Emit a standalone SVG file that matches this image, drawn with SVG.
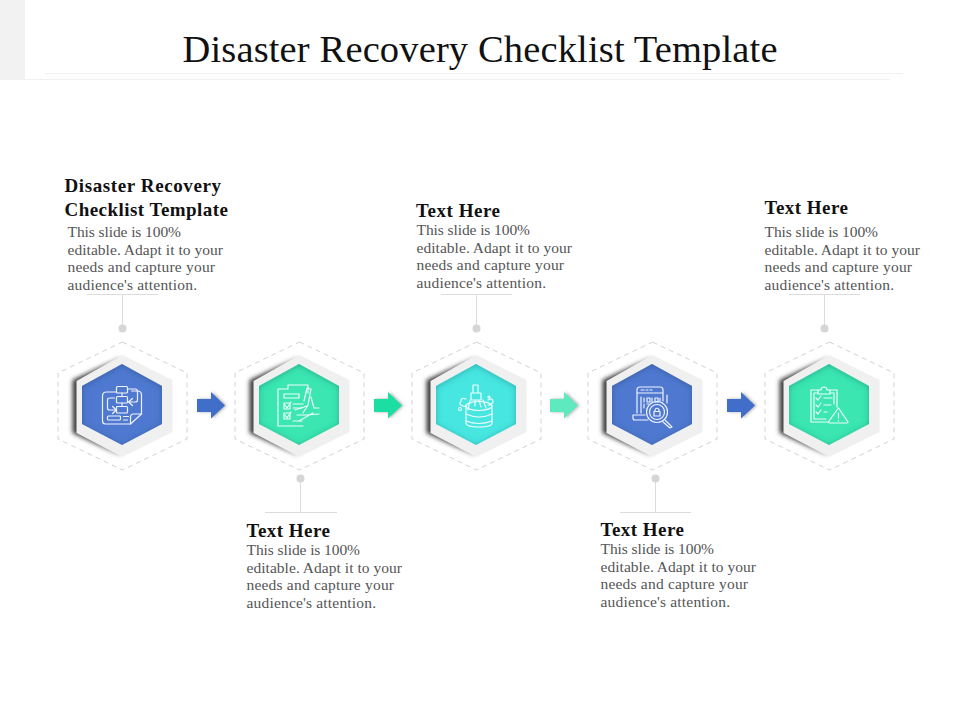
<svg xmlns="http://www.w3.org/2000/svg" width="960" height="720" viewBox="0 0 960 720">
<style>
.t{font-family:"Liberation Serif",serif;font-size:38.500px;fill:#111}
.h{font-family:"Liberation Serif",serif;font-size:19px;font-weight:bold;fill:#111}
.b{font-family:"Liberation Serif",serif;font-size:15.500px;fill:#555}
.dash{fill:#fff;stroke:#d2d2d2;stroke-width:1;stroke-dasharray:5 4}
.plate{fill:#f0f0f0}
.ic{fill:none;stroke:#fff;stroke-width:1.2;stroke-linejoin:round;stroke-linecap:round;opacity:.9}
.lead{fill:none;stroke:#dcdcdc;stroke-width:1}
.dot{fill:#d6d6d6}
</style>
<defs>
<filter id="inner" x="-20%" y="-20%" width="140%" height="140%">
<feFlood flood-color="#06304f" flood-opacity=".5"/>
<feComposite in2="SourceAlpha" operator="out"/>
<feGaussianBlur stdDeviation="3.400"/>
<feOffset dy="1"/>
<feComposite in2="SourceAlpha" operator="in" result="s"/>
<feMerge><feMergeNode in="SourceGraphic"/><feMergeNode in="s"/></feMerge>
</filter>
<filter id="soft" x="-30%" y="-30%" width="160%" height="160%"><feGaussianBlur stdDeviation="2"/></filter>
<filter id="arrowSh" x="-30%" y="-30%" width="170%" height="160%"><feDropShadow dx="1.500" dy="0" stdDeviation="1.500" flood-color="#555" flood-opacity=".5"/></filter>
<linearGradient id="shade" x1="0" x2="1" y1="0" y2="0"><stop offset="0" stop-color="#3c3c3c"/><stop offset=".6" stop-color="#5a5a5a"/><stop offset="1" stop-color="#bbb"/></linearGradient>
<g id="base">
<polygon class="dash" points="0,-64 64.500,-33 64.500,33 0,64 -64.500,33 -64.500,-33"/>
<path d="M-2,-49 L-50,-26 V27 L-2,50 L-2,40 L-40,20 V-20 L-2,-40 Z" fill="url(#shade)" filter="url(#soft)"/>
<polygon class="plate" points="0,-51 50,-26 50,26 0,51 -46,27 -46,-25"/>
</g>
<polygon id="core" points="0,-41 40,-19 40,19 0,40 -40,19 -40,-19" filter="url(#inner)"/>
<path id="arrow" d="M0,-6.500 H14 V-13.500 L28,0 L14,13 V6.500 H0 Z" filter="url(#arrowSh)"/>
</defs>

<rect width="960" height="720" fill="#fff"/>
<rect width="25" height="80" fill="#f2f2f2"/>
<line x1="45" y1="73.500" x2="903" y2="73.500" stroke="#f1f1f1"/>
<line x1="25" y1="79.500" x2="890" y2="79.500" stroke="#f1f1f1"/>
<text id="title" class="t" x="182.500" y="62" textLength="595">Disaster Recovery Checklist Template</text>

<g id="connectors">
<path class="lead" d="M122.500,328V294.500M87,294.500H158"/><circle class="dot" cx="122.500" cy="328.500" r="4"/>
<path class="lead" d="M300.500,478V512.500M265,512.500H337"/><circle class="dot" cx="300.500" cy="478.500" r="4"/>
<path class="lead" d="M476.500,328V294.500M441,294.500H512"/><circle class="dot" cx="476.500" cy="328.500" r="4"/>
<path class="lead" d="M655.500,478V512.500M620,512.500H691"/><circle class="dot" cx="655.500" cy="478.500" r="4"/>
<path class="lead" d="M824.500,328V294.500M789,294.500H860"/><circle class="dot" cx="824.500" cy="328.500" r="4"/>
<use href="#arrow" x="197" y="405.500" fill="#3f6ec8"/>
<use href="#arrow" x="374" y="405.500" fill="#1edda2"/>
<use href="#arrow" x="550" y="405.500" fill="#5ee9bf"/>
<use href="#arrow" x="727" y="405.500" fill="#3f6ec8"/>
</g>

<g id="node-1">
<use href="#base" x="122.500" y="406"/>
<use href="#core" x="122" y="405" fill="#4f79d0"/>
<g class="ic" transform="translate(122.500,405)">
<rect x="-6" y="-18.500" width="11" height="6.500" rx="1"/><rect x="-6" y="-8.500" width="11" height="6.500" rx="1"/><rect x="-6" y="1.500" width="11" height="6.500" rx="1"/>
<path d="M-.5,-12V-8.500M-.5,-2V1.500"/>
<path d="M-6,-13H-16Q-20,-13 -20,-9V16Q-20,19 -17,19H8L19,9V-10Q19,-14 15,-14H9"/>
<path d="M5,-16H13Q15,-16 15,-13V-5Q15,-3 13,-3H7M10,-6.500L6,-3L10,.5"/>
<path d="M-6,5H-13Q-15,5 -15,3V-5Q-15,-7 -13,-7H-8M-10,1.500L-6,5L-10,8.500"/>
<rect x="-15" y="11" width="13" height="4" rx="1"/><path d="M1,11.500H6M1,15H5M8,19V12Q8,9 11,9H19"/>
</g>
<text class="h" x="64.500" y="192" textLength="156.500">Disaster Recovery</text>
<text class="h" x="64.500" y="216" textLength="163.500">Checklist Template</text>
<text class="b" x="67.500" y="237" textLength="113.500">This slide is 100%</text>
<text class="b" x="67.500" y="255" textLength="155.500">editable. Adapt it to your</text>
<text class="b" x="67.500" y="272" textLength="147.500">needs and capture your</text>
<text class="b" x="67.500" y="290" textLength="129.500">audience's attention.</text>
</g>

<g id="node-2">
<use href="#base" x="299.500" y="406"/>
<use href="#core" x="299" y="405" fill="#3ae6b1"/>
<g class="ic" transform="translate(299,405)">
<path d="M-11,-16V-20H9V-12M-11,-16H-21V21H4"/>
<rect x="-15" y="-11" width="15" height="4"/>
<rect x="-15" y="-2" width="6" height="6"/><path d="M-14,0L-12,3L-8,-3M-6,-1H4M-6,3H3"/>
<rect x="-15" y="8" width="6" height="6"/><path d="M-14,10L-12,13L-8,7M-6,16H3"/>
<path d="M5,-4L8,-17L12,-16L9,0M9,0L4,8M12,-8L15,3H20M-4,5L8,1M-2,10H8L20,9M0,16L14,8"/>
</g>
<text class="h" x="246.500" y="537" textLength="83.500">Text Here</text>
<text class="b" x="246.500" y="555" textLength="113.500">This slide is 100%</text>
<text class="b" x="246.500" y="573" textLength="155.500">editable. Adapt it to your</text>
<text class="b" x="246.500" y="590" textLength="147.500">needs and capture your</text>
<text class="b" x="246.500" y="608" textLength="129.500">audience's attention.</text>
</g>

<g id="node-3">
<use href="#base" x="476.500" y="406"/>
<use href="#core" x="476" y="405" fill="#46e6e1"/>
<g class="ic" transform="translate(476,405)">
<path d="M-10,1V18Q-10,22 3,22Q16,22 16,18V1"/>
<ellipse cx="3" cy="1" rx="13" ry="4.500"/>
<path d="M-10,9Q3,15 16,9M-10,16Q3,21 16,16"/>
<path d="M-3,-20H2V-12H-3ZM-5,-12H5V-5H-5ZM-6,-5L-8,5M7,-5L10,3M-1,-5V1M3,-5L5,2"/>
<path d="M-10,-6Q-15,-8 -15,-4Q-18,0 -13,1Q-10,2 -10,0M12,-5Q17,-8 17,-3Q15,1 12,0"/>
<circle cx="-16" cy="4" r="1.500"/><circle cx="13" cy="-8" r="1"/>
</g>
<text class="h" x="416" y="217" textLength="84">Text Here</text>
<text class="b" x="416.500" y="235" textLength="113.500">This slide is 100%</text>
<text class="b" x="416.500" y="253" textLength="155.500">editable. Adapt it to your</text>
<text class="b" x="416.500" y="270" textLength="147.500">needs and capture your</text>
<text class="b" x="416.500" y="288" textLength="129.500">audience's attention.</text>
</g>

<g id="node-4">
<use href="#base" x="652.500" y="406"/>
<use href="#core" x="652" y="405" fill="#4f79d0"/>
<g class="ic" transform="translate(652,405)">
<path d="M-15,8V-15Q-15,-18 -12,-18H8Q11,-18 11,-15V-4M-15,-12H11M-11,-15H-8M-6,-15H-4M-2,-15H0"/>
<path d="M-11,8V-8M15,-10V-2"/>
<path d="M-8,-7V-3M-5,-7H-2V-3H-5ZM0,-7V-3M3,-7H6V-3H3ZM8,-7V-4M-8,-1V3M-5,-1H-3"/>
<path d="M-7,10H-19V13Q-19,15 -17,15H-4"/>
<circle cx="5" cy="7" r="10.500"/><circle cx="5" cy="7" r="7.500"/>
<path d="M2,6.500H8V11H2ZM3,6.500V4.500Q5,2 7,4.500V6.500"/>
<path d="M13,15L20,22L18,23L11,17"/>
</g>
<text class="h" x="600.500" y="536" textLength="83.500">Text Here</text>
<text class="b" x="600.500" y="554" textLength="113.500">This slide is 100%</text>
<text class="b" x="600.500" y="572" textLength="155.500">editable. Adapt it to your</text>
<text class="b" x="600.500" y="589" textLength="147.500">needs and capture your</text>
<text class="b" x="600.500" y="607" textLength="129.500">audience's attention.</text>
</g>

<g id="node-5">
<use href="#base" x="829.500" y="406"/>
<use href="#core" x="829" y="405" fill="#3ae6b1"/>
<g class="ic" transform="translate(829,405)">
<path d="M-11,-15H-18V17H-1M1,-15H8V2"/>
<path d="M-11,-12H-15V14H-3M1,-12H5V-1"/>
<path d="M-11,-11V-15H-8Q-8,-18 -5,-18Q-2,-18 -2,-15H1V-11Z"/>
<path d="M-13,-7L-11,-5L-8,-9M-5,-7H3M-13,0L-11,2L-8,-2M-5,0H2M-13,7L-11,9L-8,5M-5,7H-2"/>
<path d="M9.500,3L19,17Q19,18 18,18H1Q-1,18 0,16Z"/>
<path d="M9.500,8V13M9.500,15.500V16"/>
</g>
<text class="h" x="764.500" y="214" textLength="83.500">Text Here</text>
<text class="b" x="764.500" y="237" textLength="113.500">This slide is 100%</text>
<text class="b" x="764.500" y="255" textLength="155.500">editable. Adapt it to your</text>
<text class="b" x="764.500" y="272" textLength="147.500">needs and capture your</text>
<text class="b" x="764.500" y="290" textLength="129.500">audience's attention.</text>
</g>
</svg>
